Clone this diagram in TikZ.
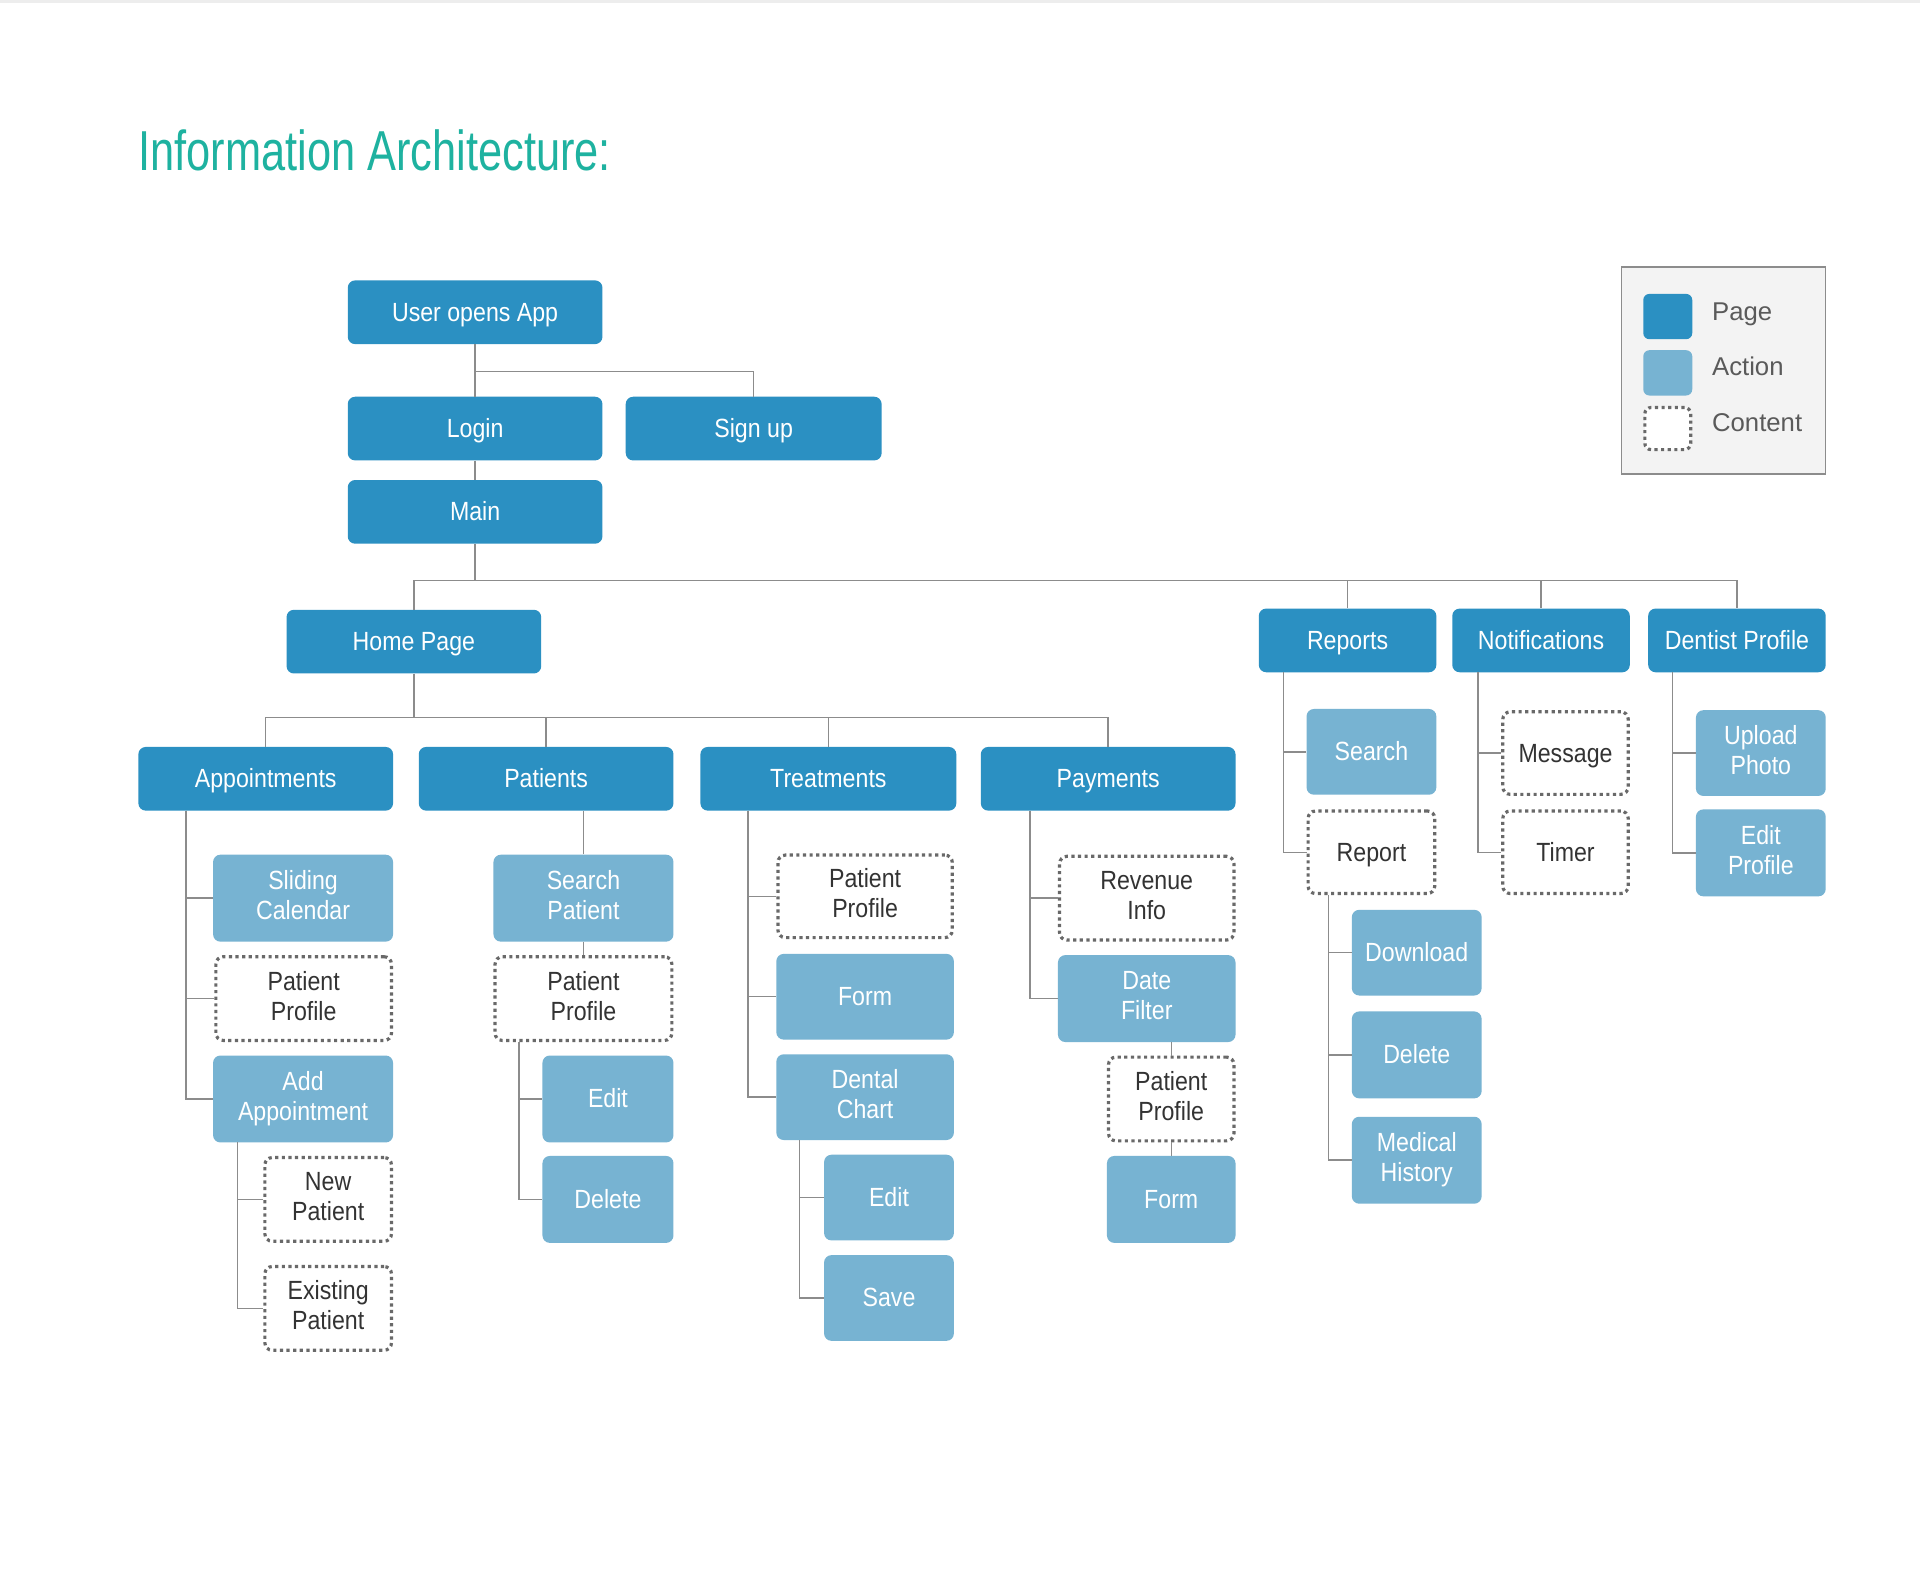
\documentclass[tikz,border=0pt]{standalone}
\usepackage{fontspec}
\setmainfont{Liberation Sans}[FakeStretch=0.88]
\newfontfamily\titlefont{Liberation Sans}[FakeStretch=0.77]
\newfontfamily\legendfont{Liberation Sans}
\usetikzlibrary{calc}
\definecolor{pageblue}{RGB}{43,144,194}
\definecolor{actblue}{RGB}{119,179,210}
\definecolor{titleteal}{RGB}{30,178,160}
\definecolor{linegray}{RGB}{140,140,140}
\definecolor{dotgray}{RGB}{105,105,105}
\definecolor{textdark}{RGB}{51,51,51}
\definecolor{legendbg}{RGB}{243,243,243}
\definecolor{legendtxt}{RGB}{90,90,90}
\newcommand\nodestrut{\rule[-4.8pt]{0pt}{24.2pt}}
\begin{document}
\begin{tikzpicture}[x=1pt,y=-1pt,
  box/.style={rectangle, rounded corners=6pt, inner sep=0pt, align=center, font=\fontsize{21.5}{24.5}\selectfont,
    execute at begin node=\nodestrut, execute at end node=\nodestrut},
  pagebox/.style={box, fill=pageblue, text=white},
  actbox/.style={box, fill=actblue, text=white},
  contbox/.style={box, fill=white, draw=dotgray, line width=2.6pt, dash pattern=on 2.6pt off 2.8pt, text=textdark},
  sz/.style n args={2}{minimum width=#1pt, minimum height=#2pt},
  csz/.style n args={2}{minimum width=#1pt-2.6pt, minimum height=#2pt-2.6pt},
  conn/.style={draw=linegray, line width=1.2pt},
  legtxt/.style={anchor=base west, inner sep=0pt, text=legendtxt, font=\legendfont\fontsize{21}{24}\selectfont},
]
\fill[white] (0,0) rectangle (1568,1294);
\useasboundingbox (0,0) rectangle (1568,1294);
\fill[black!7] (0,0) rectangle (1568,2.5);

% title
\node[anchor=base west, inner sep=0pt, text=titleteal, font=\titlefont\fontsize{46}{50}\selectfont] (title) at (113,139) {Information Architecture:};

% legend
\node[draw=linegray, fill=legendbg, line width=1pt, minimum width=167pt, minimum height=169pt, inner sep=0pt] (legend) at (1407.5,302.5) {};
\node[fill=pageblue, rounded corners=5pt, minimum width=40pt, minimum height=37pt, inner sep=0pt] (lgpage) at (1362,258.5) {};
\node[fill=actblue, rounded corners=5pt, minimum width=40pt, minimum height=37pt, inner sep=0pt] (lgact) at (1362,304.5) {};
\node[fill=white, draw=dotgray, line width=2.6pt, dash pattern=on 2.6pt off 2.8pt, rounded corners=5pt, minimum width=37.4pt, minimum height=34.4pt, inner sep=0pt] (lgcont) at (1362,350) {};
\node[legtxt] (lgpagetxt) at (1398,261.5) {Page};
\node[legtxt] (lgacttxt) at (1398,306.5) {Action};
\node[legtxt] (lgconttxt) at (1398,352.5) {Content};

% top
\node[pagebox, sz={208}{52}] (user) at (388,255) {User opens App};
\node[pagebox, sz={208}{52}] (login) at (388,350) {Login};
\node[pagebox, sz={209}{52}] (signup) at (615.5,350) {Sign up};
\node[pagebox, sz={208}{52}] (main) at (388,418) {Main};

% level 2
\node[pagebox, sz={208}{52}] (home) at (338,524) {Home Page};
\node[pagebox, sz={145}{52}] (reports) at (1100.5,523) {Reports};
\node[pagebox, sz={145}{52}] (notif) at (1258.5,523) {Notifications};
\node[pagebox, sz={145}{52}] (dentist) at (1418.5,523) {Dentist Profile};

% level 3
\node[pagebox, sz={208}{52}] (appts) at (217,636) {Appointments};
\node[pagebox, sz={208}{52}] (patients) at (446,636) {Patients};
\node[pagebox, sz={209}{52}] (treat) at (676.5,636) {Treatments};
\node[pagebox, sz={208}{52}] (pay) at (905,636) {Payments};

% appointments
\node[actbox, sz={147}{71}] (sliding) at (247.5,733.5) {Sliding\\Calendar};
\node[contbox, csz={146}{71}] (approf) at (248,815.5) {Patient\\Profile};
\node[actbox, sz={147}{71}] (addapp) at (247.5,897.5) {Add\\Appointment};
\node[contbox, csz={106}{71}] (newpat) at (268,979.5) {New\\Patient};
\node[contbox, csz={106}{71}] (exist) at (268,1068.5) {Existing\\Patient};

% patients
\node[actbox, sz={147}{71}] (searchp) at (476.5,733.5) {Search\\Patient};
\node[contbox, csz={147}{71}] (pprof) at (476.5,815.5) {Patient\\Profile};
\node[actbox, sz={107}{71}] (pedit) at (496.5,897.5) {Edit};
\node[actbox, sz={107}{71}] (pdel) at (496.5,979.5) {Delete};

% treatments
\node[contbox, csz={145}{70}] (tprof) at (706.5,732) {Patient\\Profile};
\node[actbox, sz={145}{70}] (tform) at (706.5,814) {Form};
\node[actbox, sz={145}{70}] (tdent) at (706.5,896) {Dental\\Chart};
\node[actbox, sz={106}{70}] (tedit) at (726,978) {Edit};
\node[actbox, sz={106}{70}] (tsave) at (726,1060) {Save};

% payments
\node[contbox, csz={145}{71}] (rev) at (936.5,733.5) {Revenue\\Info};
\node[actbox, sz={145}{71}] (datef) at (936.5,815.5) {Date\\Filter};
\node[contbox, csz={105}{71}] (payprof) at (956.5,897.5) {Patient\\Profile};
\node[actbox, sz={105}{71}] (payform) at (956.5,979.5) {Form};

% reports
\node[actbox, sz={106}{70}] (rsearch) at (1120,614) {Search};
\node[contbox, csz={106}{70}] (report) at (1120,696) {Report};
\node[actbox, sz={106}{70}] (dl) at (1157,778) {Download};
\node[actbox, sz={106}{71}] (rdel) at (1157,861.5) {Delete};
\node[actbox, sz={106}{71}] (medh) at (1157,947.5) {Medical\\History};

% notifications
\node[contbox, csz={105}{70}] (msg) at (1278.5,615) {Message};
\node[contbox, csz={105}{70}] (timer) at (1278.5,696) {Timer};

% dentist
\node[actbox, sz={106}{70}] (upload) at (1438,615) {Upload\\Photo};
\node[actbox, sz={106}{71}] (editp) at (1438,696.5) {Edit\\Profile};

% connectors
\draw[conn] (user.south) -- (login.north);
\draw[conn] (user.south) ++(0,22) -| (signup.north);
\draw[conn] (login.south) -- (main.north);
\coordinate (busA) at (388,474);
\draw[conn] (main.south) -- (busA);
\draw[conn] (busA) -| (home.north);
\draw[conn] (busA) -| (reports.north);
\draw[conn] (busA) -| (notif.north);
\draw[conn] (busA) -| (dentist.north);
\coordinate (busB) at (338,586);
\draw[conn] (home.south) -- (busB);
\draw[conn] (busB) -| (appts.north);
\draw[conn] (busB) -| (patients.north);
\draw[conn] (busB) -| (treat.north);
\draw[conn] (busB) -| (pay.north);

\coordinate (apL) at (152,662);
\draw[conn] (apL) |- (sliding.west);
\draw[conn] (apL) |- (approf.west);
\draw[conn] (apL) |- (addapp.west);
\coordinate (aaL) at (194,933);
\draw[conn] (aaL) |- (newpat.west);
\draw[conn] (aaL) |- (exist.west);

\draw[conn] (searchp.north) -- (searchp.north |- patients.south);
\draw[conn] (searchp.south) -- (pprof.north);
\coordinate (ppL) at (424,851);
\draw[conn] (ppL) |- (pedit.west);
\draw[conn] (ppL) |- (pdel.west);

\coordinate (trL) at (611,662);
\draw[conn] (trL) |- (tprof.west);
\draw[conn] (trL) |- (tform.west);
\draw[conn] (trL) |- (tdent.west);
\coordinate (tdL) at (653,931);
\draw[conn] (tdL) |- (tedit.west);
\draw[conn] (tdL) |- (tsave.west);

\coordinate (pyL) at (841,662);
\draw[conn] (pyL) |- (rev.west);
\draw[conn] (pyL) |- (datef.west);
\draw[conn] (payprof.north) -- (payprof.north |- datef.south);
\draw[conn] (payprof.south) -- (payform.north);

\coordinate (rpL) at (1048,549);
\draw[conn] (rpL) |- (rsearch.west);
\draw[conn] (rpL) |- (report.west);
\coordinate (rrL) at (1085,731);
\draw[conn] (rrL) |- (dl.west);
\draw[conn] (rrL) |- (rdel.west);
\draw[conn] (rrL) |- (medh.west);

\coordinate (ntL) at (1207,549);
\draw[conn] (ntL) |- (msg.west);
\draw[conn] (ntL) |- (timer.west);

\coordinate (dpL) at (1366,549);
\draw[conn] (dpL) |- (upload.west);
\draw[conn] (dpL) |- (editp.west);
\end{tikzpicture}
\end{document}
